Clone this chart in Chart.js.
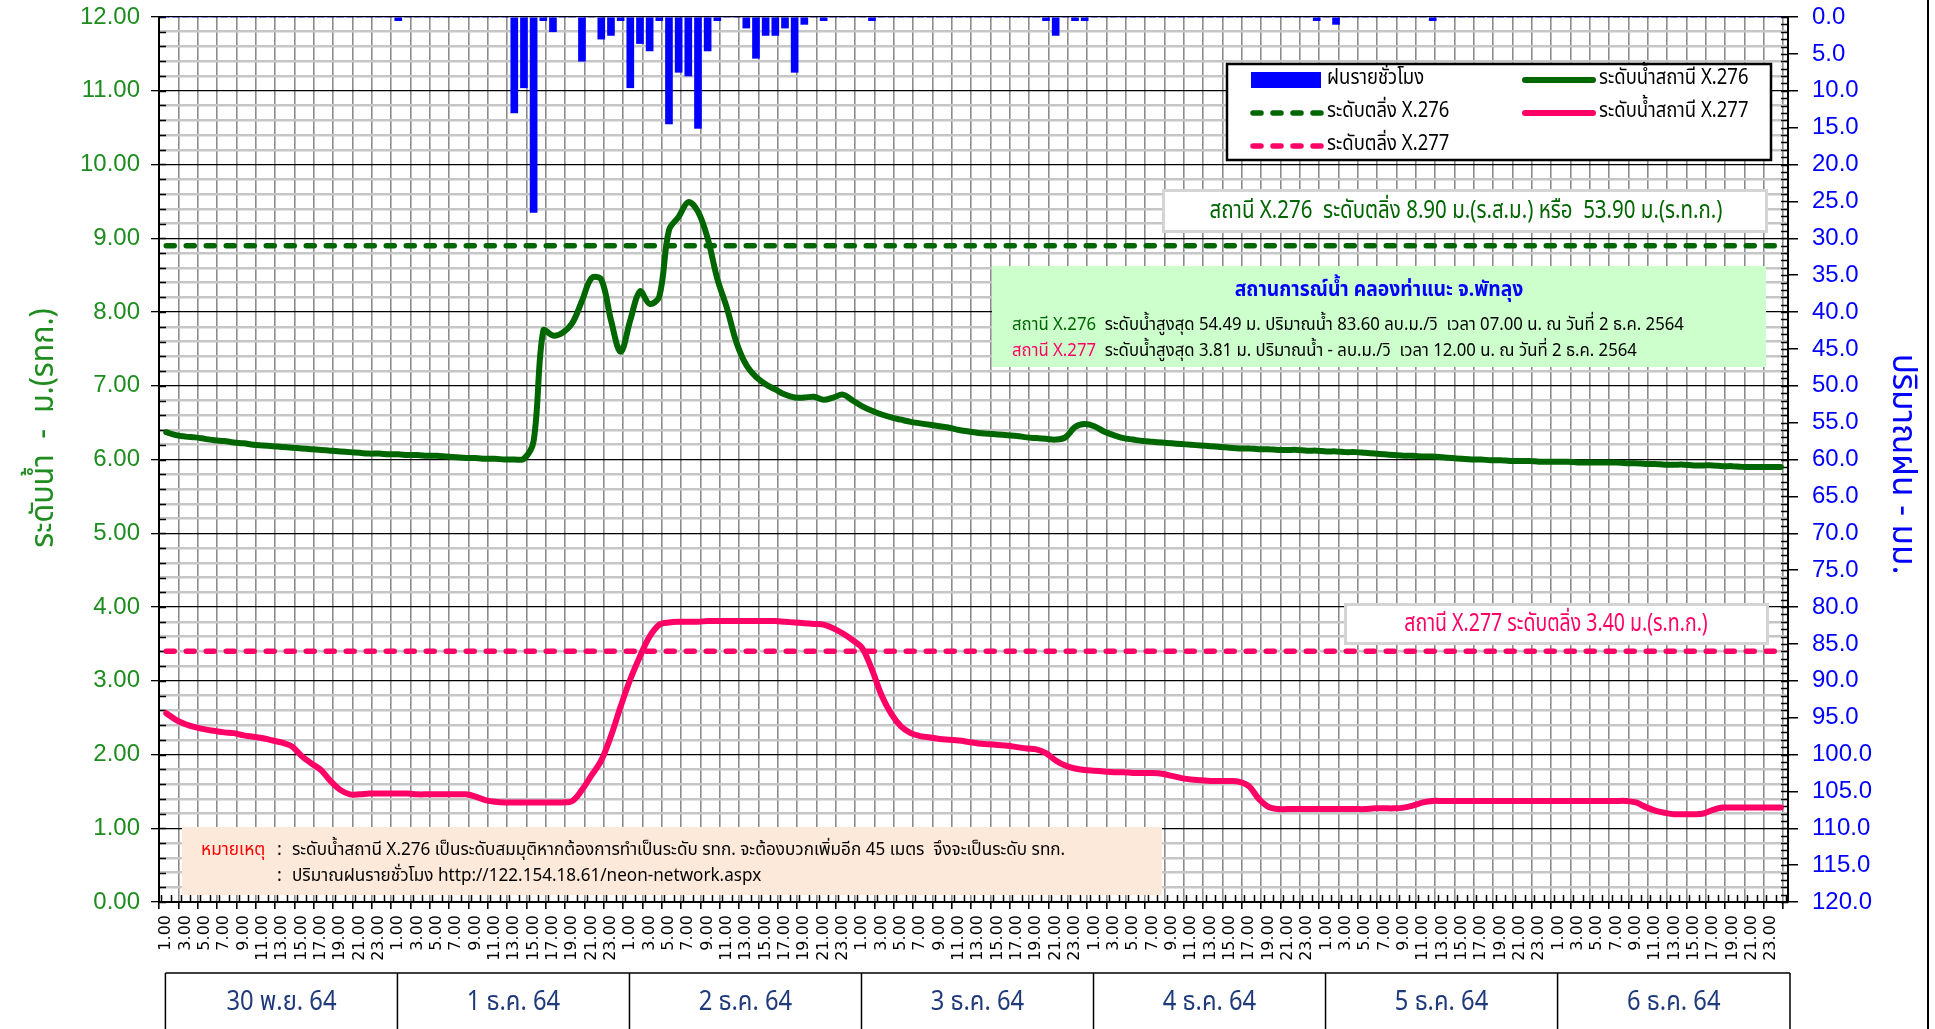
<!DOCTYPE html>
<html>
<head>
<meta charset="utf-8">
<script src="https://cdn.jsdelivr.net/npm/chart.js@4.4.1/dist/chart.umd.min.js"></script>
<style>
  html, body { margin: 0; padding: 0; background: #fff; }
  #wrap { width: 1935px; height: 1029px; }
</style>
</head>
<body>
<div id="wrap"><canvas id="chart" width="1935" height="1029"></canvas></div>
<script>
/* ระดับน้ำ X.276 / X.277 + ฝนรายชั่วโมง — 30 พ.ย. - 6 ธ.ค. 64 */

const days = ['30 พ.ย. 64', '1 ธ.ค. 64', '2 ธ.ค. 64', '3 ธ.ค. 64', '4 ธ.ค. 64', '5 ธ.ค. 64', '6 ธ.ค. 64'];
const hourTicks = ['1.00', '3.00', '5.00', '7.00', '9.00', '11.00', '13.00', '15.00', '17.00', '19.00', '21.00', '23.00'];
const levelTicks = [0, 1, 2, 3, 4, 5, 6, 7, 8, 9, 10, 11, 12];
const rainTicks = [0, 5, 10, 15, 20, 25, 30, 35, 40, 45, 50, 55, 60, 65, 70, 75, 80, 85, 90, 95, 100, 105, 110, 115, 120];

// ระดับน้ำสถานี X.276 (ม.) รายชั่วโมง, 1 แถว = 1 วัน
const levelX276 = [
  6.37, 6.33, 6.31, 6.30, 6.28, 6.26, 6.25, 6.23, 6.22, 6.20, 6.19, 6.18, 6.17, 6.16, 6.15, 6.14, 6.13, 6.12, 6.11, 6.10, 6.09, 6.08, 6.08, 6.07,
  6.07, 6.06, 6.06, 6.05, 6.05, 6.04, 6.03, 6.02, 6.02, 6.01, 6.01, 6.00, 6.00, 6.01, 6.25, 7.75, 7.68, 7.72, 7.85, 8.15, 8.46, 8.44, 7.89, 7.46,
  7.89, 8.28, 8.11, 8.21, 9.11, 9.29, 9.49, 9.36, 9.00, 8.45, 8.05, 7.58, 7.28, 7.12, 7.02, 6.95, 6.88, 6.84, 6.84, 6.85, 6.81, 6.84, 6.88, 6.80,
  6.72, 6.66, 6.61, 6.57, 6.54, 6.51, 6.49, 6.47, 6.45, 6.43, 6.40, 6.38, 6.36, 6.35, 6.34, 6.33, 6.32, 6.30, 6.29, 6.28, 6.27, 6.30, 6.44, 6.48,
  6.45, 6.38, 6.33, 6.29, 6.27, 6.25, 6.24, 6.23, 6.22, 6.21, 6.20, 6.19, 6.18, 6.17, 6.16, 6.15, 6.15, 6.14, 6.14, 6.13, 6.13, 6.13, 6.12, 6.12,
  6.11, 6.11, 6.10, 6.10, 6.09, 6.08, 6.07, 6.06, 6.05, 6.05, 6.04, 6.04, 6.03, 6.02, 6.01, 6.00, 6.00, 5.99, 5.99, 5.98, 5.98, 5.98, 5.97, 5.97,
  5.97, 5.97, 5.96, 5.96, 5.96, 5.96, 5.96, 5.95, 5.95, 5.94, 5.94, 5.93, 5.93, 5.93, 5.92, 5.92, 5.92, 5.91, 5.91, 5.90, 5.90, 5.90, 5.90, 5.90
];

// ระดับน้ำสถานี X.277 (ม.)
const levelX277 = [
  2.56, 2.47, 2.41, 2.37, 2.34, 2.32, 2.30, 2.29, 2.26, 2.24, 2.22, 2.19, 2.16, 2.11, 1.98, 1.88, 1.79, 1.64, 1.52, 1.46, 1.46, 1.47, 1.47, 1.47,
  1.47, 1.47, 1.46, 1.46, 1.46, 1.46, 1.46, 1.46, 1.43, 1.38, 1.36, 1.35, 1.35, 1.35, 1.35, 1.35, 1.35, 1.35, 1.37, 1.52, 1.72, 1.92, 2.25, 2.65,
  3.02, 3.33, 3.60, 3.76, 3.79, 3.80, 3.80, 3.80, 3.81, 3.81, 3.81, 3.81, 3.81, 3.81, 3.81, 3.81, 3.80, 3.79, 3.78, 3.77, 3.76, 3.71, 3.64, 3.55,
  3.44, 3.15, 2.80, 2.55, 2.38, 2.29, 2.25, 2.23, 2.21, 2.20, 2.19, 2.17, 2.15, 2.14, 2.13, 2.12, 2.10, 2.08, 2.07, 2.02, 1.92, 1.85, 1.81, 1.79,
  1.78, 1.77, 1.76, 1.76, 1.75, 1.75, 1.75, 1.74, 1.71, 1.68, 1.66, 1.65, 1.64, 1.64, 1.64, 1.63, 1.57, 1.40, 1.29, 1.26, 1.26, 1.26, 1.26, 1.26,
  1.26, 1.26, 1.26, 1.26, 1.26, 1.27, 1.27, 1.27, 1.28, 1.31, 1.35, 1.37, 1.37, 1.37, 1.37, 1.37, 1.37, 1.37, 1.37, 1.37, 1.37, 1.37, 1.37, 1.37,
  1.37, 1.37, 1.37, 1.37, 1.37, 1.37, 1.37, 1.37, 1.35, 1.29, 1.24, 1.21, 1.19, 1.19, 1.19, 1.20, 1.25, 1.28, 1.28, 1.28, 1.28, 1.28, 1.28, 1.28
];

// ฝนรายชั่วโมง (มม.)
const rainHourly = [
  0, 0, 0, 0, 0, 0, 0, 0, 0, 0, 0, 0, 0, 0, 0, 0, 0, 0, 0, 0, 0, 0, 0, 0,
  0.5, 0, 0, 0, 0, 0, 0, 0, 0, 0, 0, 0, 13.0, 9.6, 26.5, 0.5, 2.0, 0, 0, 6.0, 0, 3.0, 2.5, 0.5,
  9.6, 3.6, 4.6, 0.5, 14.5, 7.5, 8.0, 15.1, 4.6, 0.5, 0, 0, 1.5, 5.6, 2.5, 2.5, 1.5, 7.5, 1.0, 0, 0.5, 0, 0, 0,
  0, 0.5, 0, 0, 0, 0, 0, 0, 0, 0, 0, 0, 0, 0, 0, 0, 0, 0, 0, 0.5, 2.5, 0, 0.5, 0.5,
  0, 0, 0, 0, 0, 0, 0, 0, 0, 0, 0, 0, 0, 0, 0, 0, 0, 0, 0, 0, 0, 0, 0, 0.5,
  0, 1.0, 0, 0, 0, 0, 0, 0, 0, 0, 0, 0.5, 0, 0, 0, 0, 0, 0, 0, 0, 0, 0, 0, 0,
  0, 0, 0, 0, 0, 0, 0, 0, 0, 0, 0, 0, 0, 0, 0, 0, 0, 0, 0, 0, 0, 0, 0, 0
];

const bankX276 = 8.90;
const bankX277 = 3.40;

const HOURS = levelX276.length;
const GREEN = '#006600';
const PINK = '#ff0066';
const BLUE = '#0000ff';
const NONE = 'rgba(0,0,0,0)';
const THAI = '"Noto Sans Thai", "Noto Sans Thai UI", Tahoma, "Noto Sans", sans-serif';
const NUM = '"Liberation Sans Narrow", "Liberation Sans", sans-serif';

const pts = (arr) => arr.map((v, i) => ({ x: i + 0.5, y: v }));
const flat = (v) => levelX276.map((_, i) => ({ x: i + 0.5, y: v }));
const isInt = (v) => Math.abs(v - Math.round(v)) < 1e-6;
const tv = (c) => (c && c.tick) ? c.tick.value : null;
const xMajor = (c) => { const v = tv(c); return v !== null && isInt(v) && Math.round(v) % 2 === 0; };
const yMajor = (c) => { const v = tv(c); return v === null || isInt(v); };
const rainMajor = (c) => { const v = tv(c); return v === null || rainTicks.includes(v); };

const xTickValues = [];
for (let k = 0; k <= HOURS * 2; k++) xTickValues.push(k / 2);
const yTickValues = [];
for (let k = 0; k <= 60; k++) yTickValues.push(Math.round(k * 2) / 10);
const rainTickValues = [];
for (let k = 0; k <= 120; k++) rainTickValues.push(k);

// ข้อความ; opt.sx = บีบแนวนอน (ฟอนต์ต้นฉบับแคบกว่า)
function txt(ctx, s, x, y, color, size, opt = {}) {
  const sx = opt.sx || 1;
  ctx.save();
  ctx.font = `${opt.weight || 'normal'} ${size}px ${opt.family || THAI}`;
  ctx.fillStyle = color;
  ctx.textAlign = opt.align || 'left';
  ctx.textBaseline = 'middle';
  ctx.translate(x, y);
  ctx.scale(sx, 1);
  ctx.fillText(s, 0, 0);
  const w = ctx.measureText(s).width * sx;
  ctx.restore();
  return w;
}

function runs(ctx, parts, x, y, size, opt = {}) {
  let cx = x;
  parts.forEach(([s, c]) => { cx += txt(ctx, s, cx, y, c, size, opt); });
}

function box(ctx, x, y, w, h, fill, stroke) {
  ctx.save();
  ctx.fillStyle = fill;
  ctx.fillRect(x, y, w, h);
  if (stroke) {
    ctx.strokeStyle = stroke;
    ctx.lineWidth = 3;
    ctx.strokeRect(x + 1.5, y + 1.5, w - 3, h - 3);
  }
  ctx.restore();
}

// ---- ขีดย่อยด้านในแกน ----
const innerTicks = {
  id: 'innerTicks',
  beforeDatasetsDraw(chart) {
    const { ctx, chartArea: a, scales } = chart;
    ctx.save();
    ctx.strokeStyle = '#000';
    ctx.lineWidth = 1.5;
    ctx.beginPath();
    yTickValues.forEach(v => {
      const py = Math.round(scales.y.getPixelForValue(v)) + 0.5;
      ctx.moveTo(a.left, py); ctx.lineTo(a.left + 7, py);
    });
    rainTickValues.forEach(v => {
      const py = Math.round(scales.rain.getPixelForValue(v)) + 0.5;
      ctx.moveTo(a.right, py); ctx.lineTo(a.right - 7, py);
    });
    for (let h = 0; h <= HOURS; h++) {
      const px = Math.round(scales.x.getPixelForValue(h)) + 0.5;
      ctx.moveTo(px, a.bottom); ctx.lineTo(px, a.bottom - 7);
    }
    ctx.stroke();
    ctx.restore();
  }
};

// ---- คำอธิบาย กล่องข้อความ ตารางวันที่ ----
const decorations = {
  id: 'decorations',
  afterDraw(chart) {
    const { ctx, scales } = chart;
    const ds = chart.data.datasets;

    // legend
    box(ctx, 1226, 63, 546, 98, '#fff', null);
    ctx.save();
    ctx.strokeStyle = '#000';
    ctx.lineWidth = 2.5;
    ctx.strokeRect(1227, 64, 544, 96);
    ctx.restore();
    const legendItems = [
      [ds[0], 1251, 80], [ds[1], 1523, 80],
      [ds[3], 1251, 113], [ds[2], 1523, 113],
      [ds[4], 1251, 146]
    ];
    legendItems.forEach(([d, x, y]) => {
      ctx.save();
      if (d.type === 'bar') {
        ctx.fillStyle = d.backgroundColor;
        ctx.fillRect(x, y - 8, 70, 16);
      } else {
        ctx.strokeStyle = d.borderColor;
        ctx.lineWidth = d.borderWidth;
        ctx.lineCap = 'round';
        ctx.setLineDash(d.borderDash || []);
        ctx.beginPath();
        ctx.moveTo(x + 2, y); ctx.lineTo(x + 70, y);
        ctx.stroke();
      }
      ctx.restore();
      txt(ctx, d.label, x + 76, y, '#000', 22, { sx: 0.84 });
    });

    // ระดับตลิ่ง X.276
    box(ctx, 1162, 189, 606, 44, '#fff', '#d4d4d4');
    txt(ctx, 'สถานี X.276  ระดับตลิ่ง 8.90 ม.(ร.ส.ม.) หรือ  53.90 ม.(ร.ท.ก.)', 1466, 213, GREEN, 25, { align: 'center', sx: 0.82 });

    // สถานการณ์น้ำ
    box(ctx, 992, 266, 774, 101, '#ccffcc', null);
    txt(ctx, 'สถานการณ์น้ำ คลองท่าแนะ จ.พัทลุง', 1379, 292, BLUE, 21, { align: 'center', weight: 'bold', sx: 0.92 });
    runs(ctx, [['สถานี X.276', GREEN], ['  ระดับน้ำสูงสุด 54.49 ม. ปริมาณน้ำ 83.60 ลบ.ม./วิ  เวลา 07.00 น. ณ วันที่ 2 ธ.ค. 2564', '#000']], 1012, 326, 18, { sx: 0.93 });
    runs(ctx, [['สถานี X.277', PINK], ['  ระดับน้ำสูงสุด 3.81 ม. ปริมาณน้ำ - ลบ.ม./วิ  เวลา 12.00 น. ณ วันที่ 2 ธ.ค. 2564', '#000']], 1012, 352, 18, { sx: 0.93 });

    // ระดับตลิ่ง X.277
    box(ctx, 1344, 603, 425, 42, '#fff', '#d4d4d4');
    txt(ctx, 'สถานี X.277 ระดับตลิ่ง 3.40 ม.(ร.ท.ก.)', 1556, 626, PINK, 25, { align: 'center', sx: 0.78 });

    // หมายเหตุ
    box(ctx, 182, 827, 980, 68, '#fde9d9', null);
    txt(ctx, 'หมายเหตุ', 201, 851, '#ff0000', 18, { sx: 0.96 });
    txt(ctx, ':', 277, 851, '#000', 18);
    txt(ctx, 'ระดับน้ำสถานี X.276 เป็นระดับสมมุติหากต้องการทำเป็นระดับ รทก. จะต้องบวกเพิ่มอีก 45 เมตร  จึงจะเป็นระดับ รทก.', 292, 851, '#000', 18, { sx: 0.95 });
    txt(ctx, ':', 277, 877, '#000', 18);
    txt(ctx, 'ปริมาณฝนรายชั่วโมง http://122.154.18.61/neon-network.aspx', 292, 877, '#000', 18, { sx: 0.95 });

    // ชื่อแกน
    ctx.save();
    ctx.translate(47, 428);
    ctx.rotate(-Math.PI / 2);
    txt(ctx, 'ระดับน้ำ  -  ม.(รทก.)', 0, 0, '#1e8c1e', 32, { align: 'center', sx: 0.95 });
    ctx.restore();
    ctx.save();
    ctx.translate(1900, 464);
    ctx.rotate(Math.PI / 2);
    txt(ctx, 'ปริมาณฝน - มม.', 0, 0, BLUE, 34, { align: 'center', sx: 0.98 });
    ctx.restore();

    // ตารางวันที่
    ctx.save();
    ctx.strokeStyle = '#000';
    ctx.lineWidth = 1.5;
    const edges = days.map((_, d) => scales.x.getPixelForValue(d * 24) + 4);
    edges.push(scales.x.right + 2);
    ctx.beginPath();
    ctx.moveTo(edges[0], 973); ctx.lineTo(edges[edges.length - 1], 973);
    edges.forEach(ex => { ctx.moveTo(ex, 973); ctx.lineTo(ex, 1029); });
    ctx.stroke();
    ctx.restore();
    days.forEach((d, i) => {
      txt(ctx, d, (edges[i] + edges[i + 1]) / 2, 1005, '#1f3a7a', 27, { align: 'center', sx: 0.88 });
    });

    // เส้นขอบขวา
    ctx.save();
    ctx.fillStyle = '#000';
    ctx.fillRect(1927, 0, 2, 1029);
    ctx.restore();
  }
};

function noPad(s) {
  s.paddingTop = 0; s.paddingBottom = 0; s.paddingLeft = 0; s.paddingRight = 0;
}

function init() {
  new Chart(document.getElementById('chart'), {
    type: 'bar',
    data: {
      datasets: [
        {
          type: 'bar', label: 'ฝนรายชั่วโมง', data: pts(rainHourly), yAxisID: 'rain',
          backgroundColor: BLUE, barThickness: 7, order: 1
        },
        {
          type: 'line', label: 'ระดับน้ำสถานี X.276', data: pts(levelX276), yAxisID: 'y',
          borderColor: GREEN, borderWidth: 6, pointRadius: 0, tension: 0.35,
          borderCapStyle: 'round', borderJoinStyle: 'round', order: 2
        },
        {
          type: 'line', label: 'ระดับน้ำสถานี X.277', data: pts(levelX277), yAxisID: 'y',
          borderColor: PINK, borderWidth: 6, pointRadius: 0, tension: 0.35,
          borderCapStyle: 'round', borderJoinStyle: 'round', order: 3
        },
        {
          type: 'line', label: 'ระดับตลิ่ง X.276', data: flat(bankX276), yAxisID: 'y',
          borderColor: GREEN, borderWidth: 5.5, borderDash: [8, 12], borderCapStyle: 'round',
          pointRadius: 0, order: 4
        },
        {
          type: 'line', label: 'ระดับตลิ่ง X.277', data: flat(bankX277), yAxisID: 'y',
          borderColor: PINK, borderWidth: 5.5, borderDash: [8, 12], borderCapStyle: 'round',
          pointRadius: 0, order: 5
        }
      ]
    },
    options: {
      responsive: false,
      animation: false,
      layout: { padding: { top: 17, left: 0, right: 0, bottom: 0 } },
      plugins: { legend: { display: false }, tooltip: { enabled: false } },
      scales: {
        x: {
          type: 'linear', min: 0, max: HOURS,
          afterBuildTicks: s => { s.ticks = xTickValues.map(v => ({ value: v })); },
          afterFit: s => { s.height = 127; noPad(s); },
          ticks: {
            autoSkip: false, minRotation: 90, maxRotation: 90, padding: 6,
            color: '#000', font: { family: 'DejaVu Sans', size: 16 },
            callback: v => {
              const i = v - 0.5;
              if (isInt(i) && Math.round(i) % 2 === 0) return hourTicks[(Math.round(i) % 24) / 2];
              return '';
            }
          },
          grid: {
            color: c => xMajor(c) ? '#8c8c8c' : NONE,
            tickColor: c => xMajor(c) ? '#000' : NONE,
            lineWidth: 1.6, tickLength: 7
          },
          border: { color: '#000', width: 2 }
        },
        y: {
          position: 'left', min: 0, max: 12,
          afterBuildTicks: s => { s.ticks = yTickValues.map(v => ({ value: v })); },
          afterFit: s => { s.width = 159; noPad(s); },
          ticks: {
            autoSkip: false, padding: 11, color: '#1e8c1e', font: { family: NUM, size: 24 },
            callback: v => isInt(v) && levelTicks.includes(Math.round(v)) ? v.toFixed(2) : ''
          },
          grid: {
            color: c => yMajor(c) ? '#000' : '#c6c6c6',
            lineWidth: c => yMajor(c) ? 1.3 : 2.5,
            tickColor: c => yMajor(c) ? '#000' : NONE,
            tickLength: 8
          },
          border: { color: '#000', width: 2 }
        },
        rain: {
          position: 'right', min: 0, max: 120, reverse: true,
          afterBuildTicks: s => { s.ticks = rainTickValues.map(v => ({ value: v })); },
          afterFit: s => { s.width = 147; noPad(s); },
          ticks: {
            autoSkip: false, padding: 14, color: BLUE, font: { family: NUM, size: 24 },
            callback: v => rainTicks.includes(v) ? v.toFixed(1) : ''
          },
          grid: {
            drawOnChartArea: false, lineWidth: 1.5, tickLength: 10,
            tickColor: c => rainMajor(c) ? '#000' : NONE
          },
          border: { color: '#000', width: 2 }
        }
      }
    },
    plugins: [innerTicks, decorations]
  });
}

init();
</script>
</body>
</html>
